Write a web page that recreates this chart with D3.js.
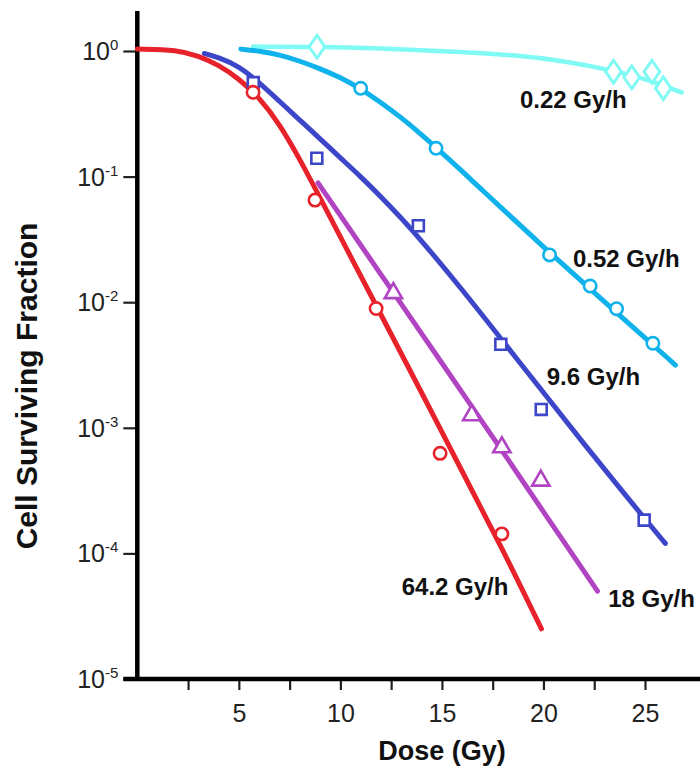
<!DOCTYPE html>
<html><head><meta charset="utf-8">
<script src="https://cdn.jsdelivr.net/npm/d3@7"></script>
<style>
html,body{margin:0;padding:0;background:#fff;}
svg{display:block;font-family:"Liberation Sans",Arial,Helvetica,sans-serif;}
</style></head>
<body><svg id="chart" width="700" height="766"></svg>
<script>
// ---- data (dose in Gy, cell surviving fraction) ----
const yTicks = [1, 0.1, 0.01, 0.001, 0.0001, 0.00001];
const yTickExp = ["0", "-1", "-2", "-3", "-4", "-5"];
const xTicks = [2.5, 5, 7.5, 10, 12.5, 15, 17.5, 20, 22.5, 25];
const xTickLabels = ["", "5", "", "10", "", "15", "", "20", "", "25"];

// fitted curves
const curve022Dose = [5.7, 9, 12, 15, 18.7, 21, 23.3, 25, 26.8];
const curve022SF   = [1.084, 1.081, 1.047, 1.0, 0.929, 0.832, 0.708, 0.603, 0.468];
const curve052Dose = [5.1, 6, 7, 8, 9, 10, 11, 12, 13, 14, 15, 16, 17, 18, 20, 22, 24, 26.5];
const curve052SF   = [1.035, 1.0, 0.933, 0.832, 0.724, 0.617, 0.501, 0.389, 0.295, 0.216, 0.155, 0.110, 0.0776, 0.0550, 0.0275, 0.0141, 0.00724, 0.00316];
const curve96Dose  = [3.3, 4, 5, 6, 7, 8, 9, 10, 11, 12, 13, 14, 16, 18, 20, 22, 24, 26];
const curve96SF    = [0.955, 0.891, 0.759, 0.562, 0.398, 0.282, 0.200, 0.141, 0.100, 0.0692, 0.0468, 0.0309, 0.0126, 0.00490, 0.00191, 0.000741, 0.000295, 0.000120];
const curve18Dose  = [8.9, 10, 12, 14, 16, 18, 20, 22.66];
const curve18SF    = [0.0891, 0.0490, 0.0166, 0.00562, 0.00191, 0.000646, 0.000214, 0.0000501];
const curve642Dose = [0, 2, 3, 4, 5, 6, 7, 8, 9, 10, 12, 14, 16, 18, 19.9];
const curve642SF   = [1.035, 1.023, 0.912, 0.776, 0.603, 0.427, 0.263, 0.138, 0.0676, 0.0331, 0.00794, 0.00191, 0.000447, 0.000107, 0.0000251];

// measured points
const pts022Dose = [8.85, 23.45, 24.35, 25.34, 25.9];
const pts022SF   = [1.08, 0.684, 0.617, 0.684, 0.505];
const pts052Dose = [11.0, 14.71, 20.3, 22.3, 23.6, 25.39];
const pts052SF   = [0.505, 0.168, 0.0238, 0.01345, 0.00887, 0.00471];
const pts96Dose  = [5.71, 8.84, 13.84, 17.9, 19.89, 24.96];
const pts96SF    = [0.56, 0.14, 0.0406, 0.00462, 0.0014, 0.000184];
const pts18Dose  = [12.61, 16.47, 17.95, 19.87];
const pts18SF    = [0.0118, 0.00126, 0.0007, 0.00038];
const pts642Dose = [5.7, 8.75, 11.76, 14.91, 17.95];
const pts642SF   = [0.469, 0.065, 0.0089, 0.000626, 0.000143];

const seriesNames  = ["0.22 Gy/h", "0.52 Gy/h", "9.6 Gy/h", "18 Gy/h", "64.2 Gy/h"];
const seriesColors = ["#7ffaf4", "#10b2ec", "#3d46c9", "#b044c3", "#e8222b"];
const seriesMarker = ["diamond", "circle", "square", "triangle", "circle"];
// label anchor in data space (dose, fraction)
const labelDose = [18.84, 21.45, 20.16, 23.19, 13.02];
const labelSF   = [0.352, 0.0191, 0.00219, 0.0000374, 0.0000467];

// ---- drawing ----
const svg = d3.select("#chart");
const x = d3.scaleLinear().domain([0, 25]).range([137.3, 645]);
const y = d3.scaleLog().domain([1e-5, 1]).range([679, 51]);

const curves = [
  [curve022Dose, curve022SF], [curve052Dose, curve052SF], [curve96Dose, curve96SF],
  [curve18Dose, curve18SF], [curve642Dose, curve642SF]];
const points = [
  [pts022Dose, pts022SF], [pts052Dose, pts052SF], [pts96Dose, pts96SF],
  [pts18Dose, pts18SF], [pts642Dose, pts642SF]];

// axes
const yAxisX = x(0);
const xAxisY = y(1e-5);
const gy = svg.append("g").attr("transform", `translate(${yAxisX},0)`)
  .call(d3.axisLeft(y).tickValues(yTicks).tickSize(14).tickFormat(""));
gy.select(".domain").remove();
gy.selectAll(".tick line").attr("stroke", "#222").attr("stroke-width", 2.2);
yTicks.forEach((v, i) => {
  const t = svg.append("text").attr("x", yAxisX - 19).attr("y", y(v) + 9)
    .attr("text-anchor", "end").attr("fill", "#222").style("font-size", "25px");
  t.append("tspan").text("10");
  t.append("tspan").attr("dy", -10).style("font-size", "15px").text(yTickExp[i]);
});

const gx = svg.append("g").attr("transform", `translate(0,${xAxisY})`)
  .call(d3.axisBottom(x).tickValues(xTicks).tickSize(11).tickFormat((d, i) => xTickLabels[i]));
gx.select(".domain").remove();
gx.selectAll(".tick line").attr("stroke", "#222").attr("stroke-width", 2.2);
gx.selectAll(".tick text").attr("fill", "#222").style("font-size", "25px")
  .style("font-family", "'Liberation Sans',Arial,sans-serif").attr("dy", "1.15em");

// axis lines
svg.append("line").attr("x1", yAxisX).attr("x2", yAxisX)
  .attr("y1", y(2.08)).attr("y2", xAxisY + 2)
  .attr("stroke", "#000").attr("stroke-width", 4.5);
svg.append("line").attr("x1", yAxisX - 14).attr("x2", 700)
  .attr("y1", xAxisY).attr("y2", xAxisY)
  .attr("stroke", "#000").attr("stroke-width", 4.5);

// titles
svg.append("text").attr("x", x(15)).attr("y", 760).attr("text-anchor", "middle")
  .style("font-size", "27px").style("font-weight", "bold").attr("fill", "#111").text("Dose (Gy)");
svg.append("text").attr("transform", "translate(37,386) rotate(-90)").attr("text-anchor", "middle")
  .style("font-size", "30px").style("font-weight", "bold").attr("fill", "#111").text("Cell Surviving Fraction");

// curves
const line = d3.line().x(d => x(d[0])).y(d => y(d[1])).curve(d3.curveBasis);
curves.forEach((c, i) => {
  const data = c[0].map((d, j) => [d, c[1][j]]);
  svg.append("path").datum(data).attr("d", line).attr("fill", "none")
    .attr("stroke", seriesColors[i]).attr("stroke-width", i === 0 ? 4.5 : 5)
    .attr("stroke-linecap", "round").attr("stroke-linejoin", "round");
});

// markers
const symbolMap = {
  circle: d3.symbol().type(d3.symbolCircle).size(120),
  square: d3.symbol().type(d3.symbolSquare).size(120),
  triangle: d3.symbol().type(d3.symbolTriangle).size(130),
  diamond: d3.symbol().type(d3.symbolDiamond).size(150)
};
points.forEach((p, i) => {
  p[0].forEach((d, j) => {
    const sym = seriesMarker[i];
    const isDia = sym === "diamond";
    svg.append("path").attr("d", symbolMap[sym]())
      .attr("transform", `translate(${x(d)},${y(p[1][j])})${isDia ? " scale(1.2,1)" : ""}`)
      .attr("fill", "#fff").attr("stroke", seriesColors[i]).attr("stroke-width", 2.6);
  });
});

// series labels
seriesNames.forEach((n, i) => {
  svg.append("text").attr("x", x(labelDose[i])).attr("y", y(labelSF[i]))
    .style("font-size", "24px").style("font-weight", "bold").attr("fill", "#111").text(n);
});
</script></body></html>
